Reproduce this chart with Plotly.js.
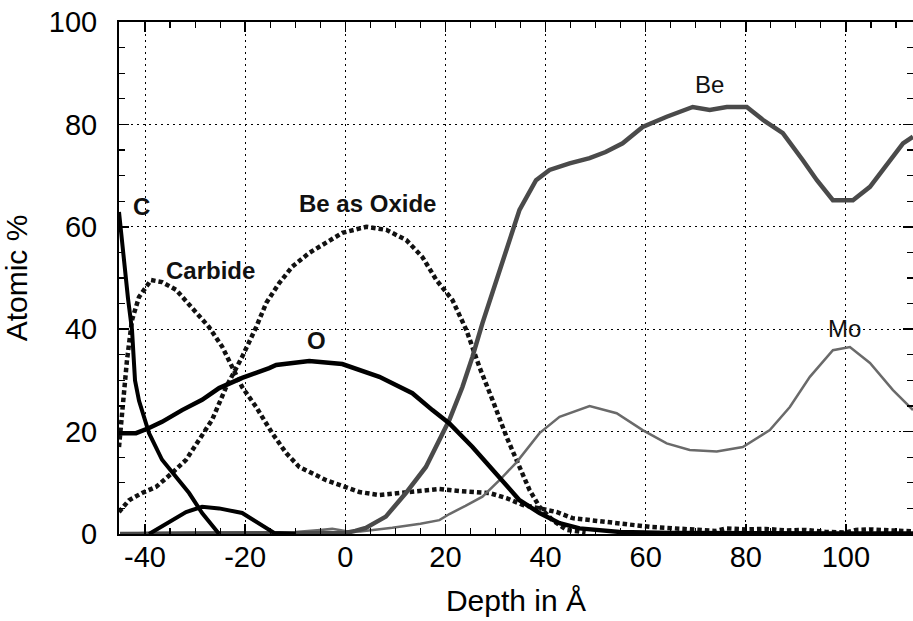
<!DOCTYPE html>
<html>
<head>
<meta charset="utf-8">
<script src="https://cdn.plot.ly/plotly-3.0.1.min.js"></script>
<style>html,body{margin:0;padding:0;background:#fff;}#chart{width:913px;height:621px;}</style>
</head>
<body>
<div id="chart"></div>
<script>
// Depth (Å) and atomic % for each profile
const cDepth = [-45.2,-44.4,-43.4,-42.6,-42,-41.2,-39.2,-36.6,-33.8,-31.2,-28.6,-25.2];
const cPct   = [62.9,55,46,39.8,30,26,19.7,14.5,11.1,8,4.1,0];

const humpDepth = [-39.2,-35.2,-31.8,-28.6,-25.2,-20.6,-15.8,-14.2,-10];
const humpPct   = [0,2.3,4.3,5.3,5,4.1,1.2,0.2,0];

const oDepth = [-45.2,-41.8,-39.2,-36.6,-32.6,-28.6,-25.2,-20.6,-15.2,-13.8,-7.2,-0.6,6.8,13.4,17.4,20.8,25.4,30.8,34.8,38.8,42.8,46.8,54.8,65,80,100,113.4];
const oPct   = [19.7,19.7,20.7,21.9,24.2,26.2,28.5,30.5,32.4,33,33.8,33.2,30.7,27.5,24.2,21.6,17,11.1,6.6,4.1,2.1,1.1,0.4,0.2,0.1,0.1,0.1];

const carbideDepth = [-45.2,-44.4,-43.6,-42.6,-41.2,-38.8,-36.6,-33.8,-30.6,-27.2,-24.6,-22.6,-20.6,-17.8,-14.6,-11.8,-9.2,-3.8,0.2,2.8,6.8,10.8,14.8,18.8,22.8,28.8,32.2,35.4,38.8,42.2,45.4,50.8,54.8,57.4,60.8,64.2,70.8,74,76.2,80,84,88,92,96,100,102,105,110,113.4];
const carbidePct   = [17,26.8,34,41.8,46.3,49.6,49.2,47.7,44.3,40.4,36.6,32.6,28.7,24.8,19.7,15.8,13.1,10.5,9.2,8.2,7.6,8,8.6,8.8,8.4,8,7,5.7,5,4.3,3.1,2.5,2,1.7,1.4,1.2,0.8,0.6,1.1,0.9,1.0,0.7,0.8,0.4,0.3,0.8,0.9,0.6,0.5];

const oxideDepth = [-45.2,-43.2,-40.6,-37.8,-34.6,-31.8,-29.2,-26.6,-23.8,-20.6,-17.8,-15.8,-13.2,-10.6,-7.2,-3.8,-0.6,4.2,8.2,12.2,15.4,18.2,21.4,24.2,26.8,29.4,32.2,34.8,36.8,38.8,41.4,44.2,48];
const oxidePct   = [4.3,6.6,8,9.2,11.9,14.5,18.4,22.3,28.7,34.6,40.4,45.1,49,52.2,54.9,56.8,58.8,60,59.4,57.4,54.1,49.6,45.7,39.8,32.6,26.2,19,13.1,8.6,5.3,2.7,0.8,0.3];

const beDepth = [-45,-30,-15,-5,0,2,4.1,8.1,12.1,16.1,20.8,23.4,25.4,27.4,29.4,32.2,34.8,38.1,40.8,44.8,48.8,52,55.4,59.4,64.2,69.4,72.8,76.2,80.2,83.4,87.4,91.4,94.2,97.4,101.4,104.8,108.8,111.4,113.4];
const bePct   = [0,0.1,0.2,0.3,0.2,0.6,1.2,3.4,8,13.1,22.3,28.7,34.6,41.2,47,55.5,63.3,69.1,71.1,72.4,73.4,74.6,76.3,79.5,81.5,83.4,82.8,83.4,83.4,80.9,78.3,73,69.1,65.2,65.2,67.8,73,76.3,77.6];

const moDepth = [-45,-40,-30,-20,-10,-5,-2.6,0,3,9.4,15,18.8,20.8,24,27.4,30.8,34.2,38.8,42.8,48.8,54.2,59.4,64.2,68.8,74.2,79.4,84.8,88.8,92.8,97.4,100.8,104.8,109.4,113.4];
const moPct   = [0,0.2,0.3,0.3,0.4,0.8,1.0,0.6,0.5,1.2,2,2.7,3.9,5.5,7.3,10.5,14,19.7,22.9,25,23.6,20.3,17.7,16.4,16.1,17,20.3,24.8,30.7,35.9,36.5,33.4,28.1,24.2];

const xTicks = [-40,-20,0,20,40,60,80,100];
const yTicks = [0,20,40,60,80,100];

const FONT = 'Liberation Sans, Arial, Helvetica, sans-serif';

const traces = [
  {x: oxideDepth, y: oxidePct, name: 'Be as Oxide', mode: 'lines', line: {color: '#111', width: 4.5, dash: '4.5px,3px'}},
  {x: carbideDepth, y: carbidePct, name: 'Carbide', mode: 'lines', line: {color: '#111', width: 4.5, dash: '4.5px,3px'}},
  {x: moDepth, y: moPct, name: 'Mo', mode: 'lines', line: {color: '#6a6a6a', width: 2.5}},
  {x: beDepth, y: bePct, name: 'Be', mode: 'lines', line: {color: '#4a4a4a', width: 4.5}},
  {x: humpDepth, y: humpPct, name: 'other', mode: 'lines', line: {color: '#000', width: 4}},
  {x: cDepth, y: cPct, name: 'C', mode: 'lines', line: {color: '#000', width: 4}},
  {x: oDepth, y: oPct, name: 'O', mode: 'lines', line: {color: '#000', width: 4.5}}
];

const axisCommon = {
  showline: true, linecolor: '#000', linewidth: 2, mirror: 'ticks',
  ticks: 'inside', ticklen: 10, tickwidth: 1.5, tickcolor: '#000',
  showgrid: true, gridcolor: '#000', gridwidth: 1, griddash: '2px,4px',
  zeroline: false,
  tickfont: {family: FONT, size: 29, color: '#000'},
  minor: {dtick: 5, ticks: 'inside', ticklen: 6, tickcolor: '#000', tickwidth: 1.2, showgrid: false}
};

const layout = {
  width: 913, height: 621,
  margin: {l: 119, r: 0, t: 22, b: 87},
  paper_bgcolor: '#fff', plot_bgcolor: '#fff',
  showlegend: false,
  font: {family: FONT, color: '#000'},
  xaxis: Object.assign({}, axisCommon, {
    range: [-45.2, 113.4], tickvals: xTicks, ticktext: xTicks.map(String),
    ticklabelstandoff: -4,
    title: {text: 'Depth in Å', font: {family: FONT, size: 30, color: '#000'}, standoff: 18}
  }),
  yaxis: Object.assign({}, axisCommon, {
    range: [0, 100], tickvals: yTicks, ticktext: yTicks.map(String),
    ticklabelstandoff: 14,
    title: {text: 'Atomic %', font: {family: FONT, size: 30, color: '#000'}, standoff: 15}
  }),
  annotations: [
    {x: -40.8, y: 63.9, text: '<b>C</b>'},
    {x: -27, y: 51.4, text: '<b>Carbide</b>'},
    {x: 4.4, y: 64.5, text: '<b>Be as Oxide</b>'},
    {x: -5.8, y: 37.7, text: '<b>O</b>'},
    {x: 72.8, y: 87.7, text: 'Be'},
    {x: 99.8, y: 40.2, text: 'Mo'}
  ].map(a => Object.assign({xref: 'x', yref: 'y', showarrow: false, xanchor: 'center', yanchor: 'middle',
    font: {family: FONT, size: 24, color: '#111'}}, a))
};

Plotly.newPlot('chart', traces, layout, {staticPlot: true, displayModeBar: false});
</script>
</body>
</html>
